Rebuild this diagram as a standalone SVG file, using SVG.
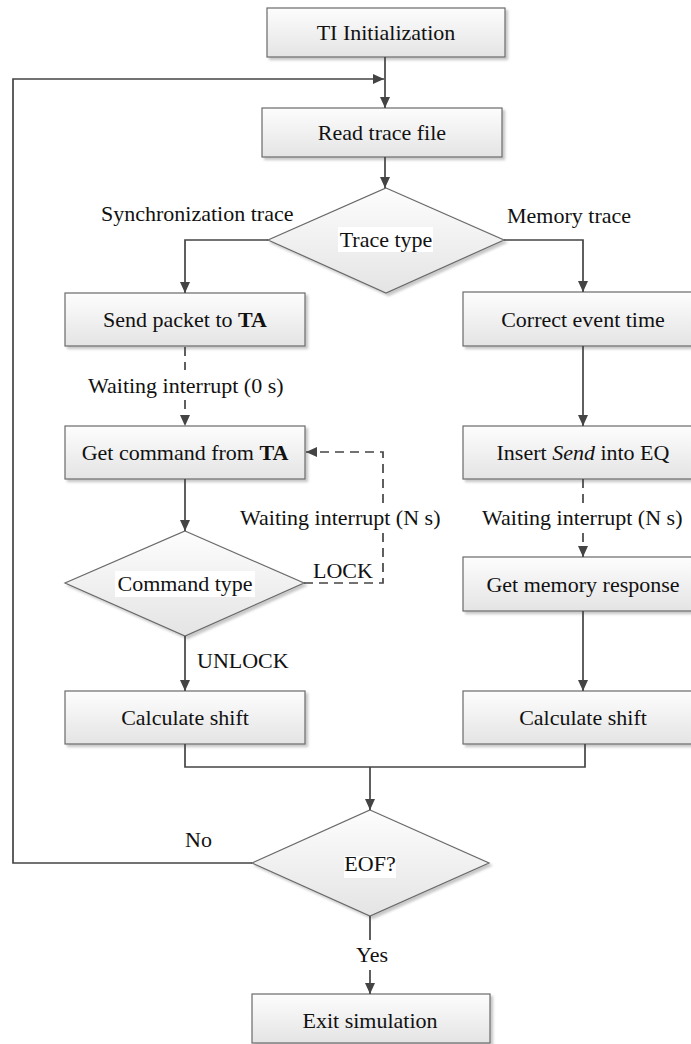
<svg xmlns="http://www.w3.org/2000/svg" width="691" height="1044" viewBox="0 0 691 1044">
<style>
text{font-family:"Times New Roman",Times,"Liberation Serif","Noto Serif",serif;font-size:22px;fill:#111;}
.c{text-anchor:middle;}
.box{fill:url(#g);stroke:#6a6a6a;stroke-width:1.2;filter:url(#sh);}
.ln{fill:none;stroke:#444;stroke-width:1.7;}
.ar{marker-end:url(#ah);}
.da{stroke-dasharray:9,6;}
.bg{fill:#fff;}
</style>
<defs>
<linearGradient id="g" x1="0" y1="0" x2="0" y2="1">
<stop offset="0" stop-color="#fdfdfd"/>
<stop offset="1" stop-color="#e4e4e4"/>
</linearGradient>
<filter id="sh" x="-10%" y="-10%" width="125%" height="130%">
<feDropShadow dx="2.5" dy="2.5" stdDeviation="1.2" flood-color="#000" flood-opacity="0.22"/>
</filter>
<marker id="ah" markerUnits="userSpaceOnUse" markerWidth="12" markerHeight="12" viewBox="0 0 12 12" refX="11" refY="6" orient="auto">
<path d="M0,1 L11,6 L0,11 Z" fill="#444"/>
</marker>
</defs>

<g id="n-ti"><rect class="box" x="267" y="8" width="238" height="49"/><text class="c" x="386" y="40">TI Initialization</text></g>
<g id="n-read"><rect class="box" x="262" y="108" width="240" height="49"/><text class="c" x="382" y="140">Read trace file</text></g>
<g id="n-trace"><polygon class="box" points="386,188 504,240 386,293 268,240"/><rect class="bg" x="338" y="227" width="95" height="25"/><text class="c" x="386" y="247">Trace type</text></g>
<g id="n-send"><rect class="box" x="65" y="293" width="240" height="53"/><text class="c" x="185" y="327">Send packet to <tspan font-weight="bold">TA</tspan></text></g>
<g id="n-correct"><rect class="box" x="463" y="292" width="240" height="54"/><text class="c" x="583" y="327">Correct event time</text></g>
<g id="n-getcmd"><rect class="box" x="65" y="426" width="240" height="53"/><text class="c" x="185" y="460">Get command from <tspan font-weight="bold">TA</tspan></text></g>
<g id="n-insert"><rect class="box" x="463" y="426" width="240" height="53"/><text class="c" x="583" y="460">Insert <tspan font-style="italic">Send</tspan> into EQ</text></g>
<g id="n-cmdtype"><polygon class="box" points="185,531 304,583 185,636 65,583"/><rect class="bg" x="115" y="571" width="140" height="26"/><text class="c" x="185" y="591">Command type</text></g>
<g id="n-getmem"><rect class="box" x="463" y="557" width="240" height="54"/><text class="c" x="583" y="592">Get memory response</text></g>
<g id="n-calcl"><rect class="box" x="65" y="691" width="240" height="53"/><text class="c" x="185" y="725">Calculate shift</text></g>
<g id="n-calcr"><rect class="box" x="463" y="691" width="240" height="53"/><text class="c" x="583" y="725">Calculate shift</text></g>
<g id="n-eof"><polygon class="box" points="370,810 489,863 370,916 252,863"/><rect class="bg" x="344" y="856" width="52" height="22"/><text class="c" x="370" y="871">EOF?</text></g>
<g id="n-exit"><rect class="box" x="252" y="994" width="238" height="49"/><text class="c" x="370" y="1028">Exit simulation</text></g>

<g id="connectors">
<path class="ln ar" d="M385,57 V108"/>
<path class="ln ar" d="M252,863 H13 V79 H384"/>
<path class="ln ar" d="M385,157 V188"/>
<path class="ln ar" d="M268,240 H185 V293"/>
<path class="ln ar" d="M504,240 H583 V292"/>
<path class="ln da" d="M185,347 V370"/>
<path class="ln da ar" d="M185,400 V426"/>
<path class="ln ar" d="M185,479 V531"/>
<path class="ln da" d="M304,583 H383 V533"/>
<path class="ln da ar" d="M383,503 V452 H306"/>
<path class="ln ar" d="M185,636 V691"/>
<path class="ln ar" d="M583,346 V426"/>
<path class="ln da" d="M583,479 V503"/>
<path class="ln da ar" d="M583,533 V557"/>
<path class="ln ar" d="M583,611 V691"/>
<path class="ln" d="M185,744 V767 H585 V744"/>
<path class="ln ar" d="M370,767 V810"/>
<path class="ln" d="M370,916 V940"/>
<path class="ln ar" d="M370,970 V994"/>
</g>

<g id="labels">
<text x="101" y="221">Synchronization trace</text>
<text x="507" y="223">Memory trace</text>
<text x="88" y="393">Waiting interrupt (0 s)</text>
<text x="240" y="525">Waiting interrupt (N s)</text>
<text x="482" y="525">Waiting interrupt (N s)</text>
<text x="313" y="578">LOCK</text>
<text x="197" y="668">UNLOCK</text>
<text x="185" y="847">No</text>
<text x="356" y="962">Yes</text>
</g>
</svg>
